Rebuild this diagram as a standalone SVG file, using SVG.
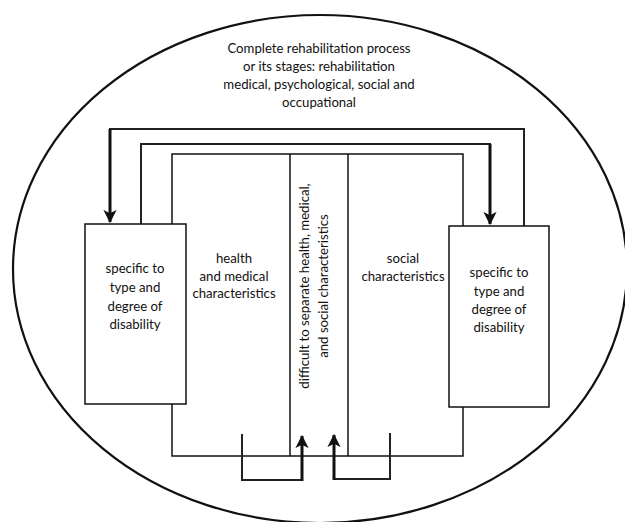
<svg xmlns="http://www.w3.org/2000/svg" width="625" height="522" viewBox="0 0 625 522">
<style>
text{font-family:Lato,"Liberation Sans",sans-serif;font-size:13.2px;fill:#111;text-anchor:middle}
.box{fill:#fff;stroke:#111;stroke-width:1.5}
.loop{fill:none;stroke:#222;stroke-width:2}
.arr{fill:none;stroke:#111;stroke-width:3}
.frame{fill:none;stroke:#111;stroke-width:1.5}
</style>
<defs>
<marker id="ah" viewBox="0 0 12 12" refX="11" refY="6" markerWidth="4.4" markerHeight="4.4" markerUnits="strokeWidth" orient="auto">
<path d="M0,0 L12,6 L0,12 L3,6 z" fill="#111"/>
</marker>
</defs>
<g id="outer">
<ellipse cx="320" cy="269" rx="307" ry="254" fill="none" stroke="#111" stroke-width="2.2"/>
<text x="319" y="53">Complete rehabilitation process</text>
<text x="319" y="71">or its stages: rehabilitation</text>
<text x="319" y="89">medical, psychological, social and</text>
<text x="319" y="107">occupational</text>
</g>
<g id="frame">
<rect class="frame" x="172" y="154" width="291" height="302"/>
<line class="frame" x1="290" y1="154" x2="290" y2="456"/>
<line class="frame" x1="348" y1="154" x2="348" y2="456"/>
</g>
<g id="connectors">
<polyline class="loop" points="524,226 524,129 110,129 110,212"/>
<line class="arr" x1="110" y1="129" x2="110" y2="222" marker-end="url(#ah)"/>
<polyline class="loop" points="141,224 141,144 490,144 490,212"/>
<line class="arr" x1="490" y1="144" x2="490" y2="224" marker-end="url(#ah)"/>
<polyline class="loop" points="242,434 242,480 302,480"/>
<line class="arr" x1="302" y1="481" x2="302" y2="436" marker-end="url(#ah)"/>
<polyline class="loop" points="334,479 390,479 390,433"/>
<line class="arr" x1="334" y1="480" x2="334" y2="435" marker-end="url(#ah)"/>
</g>
<g id="left-box">
<rect class="box" x="85" y="224" width="101" height="180"/>
<text x="135" y="273">specific to</text>
<text x="135" y="292">type and</text>
<text x="135" y="311">degree of</text>
<text x="135" y="329">disability</text>
</g>
<g id="right-box">
<rect class="box" x="449" y="226" width="100" height="181"/>
<text x="499" y="277">specific to</text>
<text x="499" y="296">type and</text>
<text x="499" y="314">degree of</text>
<text x="499" y="332">disability</text>
</g>
<g id="health">
<text x="234" y="263">health</text>
<text x="234" y="281">and medical</text>
<text x="234" y="298">characteristics</text>
</g>
<g id="middle">
<text transform="translate(309,286) rotate(-90)">difficult to separate health, medical,</text>
<text transform="translate(328,286) rotate(-90)">and social characteristics</text>
</g>
<g id="social">
<text x="403" y="263">social</text>
<text x="403" y="281">characteristics</text>
</g>
</svg>
